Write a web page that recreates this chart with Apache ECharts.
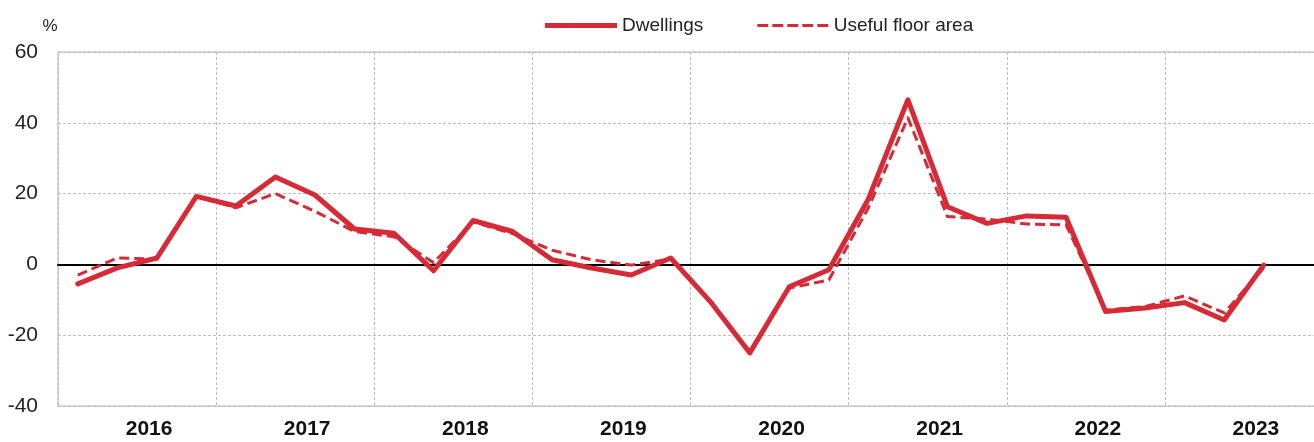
<!DOCTYPE html>
<html>
<head>
<meta charset="utf-8">
<script src="https://cdn.jsdelivr.net/npm/echarts@6.0.0/dist/echarts.min.js"></script>
<style>
  html, body { margin: 0; padding: 0; background: #fff; overflow: hidden; }
  /* the plot runs a little past the right edge of the picture, as in the source */
  #chart { width: 1324px; height: 442px; }
</style>
</head>
<body>
<div id="chart"></div>
<script>
// years shown on the axis, quarters used for the data points
const years = ['2016', '2017', '2018', '2019', '2020', '2021', '2022', '2023'];
const quarters = years.flatMap(y => ['Q1', 'Q2', 'Q3', 'Q4'].map(q => y + q));

// year-on-year rate of change, %
const dwellings = [-5.5, -1, 1.8, 19.2, 16.5, 24.7, 19.6, 10, 8.8, -1.8,
    12.4, 9.3, 1.3, -1, -3, 1.8, -10.5, -25, -6.3, -1.5,
    18.5, 46.5, 16.3, 11.6, 13.7, 13.3, -13.3, -12.3, -10.8, -15.7, -0.2];
const floorArea = [-3, 1.8, 1.5, 19.2, 16, 20, 15, 9.3, 7.8, 0.5,
    12, 8.7, 4, 1.3, -0.2, 1.5, -10.5, -25, -6.7, -4.4,
    16, 41.4, 13.5, 12.8, 11.4, 11.2, -12.9, -11.9, -8.9, -13.7, -1];

const yTicks = { min: -40, max: 60, step: 20 };

const red = '#d62b36';
const font = "'Liberation Sans', Arial, sans-serif";

// legend swatches: a thick bar and five dashes (tiny dots at y=0 and y=5 keep the box 5 high)
const solidIcon = 'path://M0,0h72v5h-72z';
const dashIcon = 'path://M0,0h0.01v0.01h-0.01z M0,4.99h0.01v0.01h-0.01z'
    + ' M0,1h11v3h-11z M15,1h11v3h-11z M30,1h11v3h-11z M45,1h11v3h-11z M60,1h11v3h-11z';

const chart = echarts.init(document.getElementById('chart'));
chart.setOption({
    animation: false,
    textStyle: { fontFamily: font },
    legend: {
        left: 545,
        top: 16,
        padding: 0,
        itemWidth: 72,
        itemHeight: 5,
        itemGap: 54,
        textStyle: { fontSize: 19, color: '#222', fontFamily: font },
        data: [
            { name: 'Dwellings', icon: solidIcon },
            { name: 'Useful floor area', icon: dashIcon },
        ],
    },
    grid: {
        left: 58,
        right: 1,
        top: 52,
        bottom: 36,
        show: true,
        borderColor: '#d9d9d9',
        borderWidth: 2,
    },
    xAxis: [
        {
            // data axis, its line gives the zero line
            type: 'category',
            data: quarters,
            boundaryGap: true,
            axisLine: { onZero: true, lineStyle: { color: '#000', width: 2 } },
            axisTick: { show: false },
            axisLabel: { show: false },
            splitLine: { show: false },
        },
        {
            // year labels and year separators
            type: 'category',
            data: years,
            position: 'bottom',
            boundaryGap: true,
            axisLine: { show: false, onZero: false },
            axisTick: { show: false },
            axisLabel: {
                margin: 13,
                fontSize: 21,
                fontWeight: 'bold',
                color: '#111',
                padding: [0, 0, 0, 24],
            },
            splitLine: {
                show: true,
                lineStyle: { color: '#bdbdbd', type: [3, 2], width: 1 },
            },
        },
    ],
    yAxis: {
        type: 'value',
        min: yTicks.min,
        max: yTicks.max,
        interval: yTicks.step,
        name: '%',
        nameLocation: 'end',
        nameGap: 17,
        nameTextStyle: { fontSize: 17, color: '#222', align: 'center', padding: [0, 16, 0, 0] },
        axisLine: { show: false },
        axisTick: { show: false },
        axisLabel: { margin: 20, fontSize: 21, color: '#222' },
        splitLine: { lineStyle: { color: '#bdbdbd', type: [3, 2], width: 1 } },
    },
    series: [
        {
            name: 'Dwellings',
            type: 'line',
            data: dwellings,
            symbol: 'none',
            lineStyle: { color: red, width: 5, join: 'round', cap: 'round' },
            itemStyle: { color: red },
        },
        {
            name: 'Useful floor area',
            type: 'line',
            data: floorArea,
            symbol: 'none',
            lineStyle: { color: red, width: 3, type: [10, 5], join: 'round' },
            itemStyle: { color: red },
        },
    ],
});
</script>
</body>
</html>
